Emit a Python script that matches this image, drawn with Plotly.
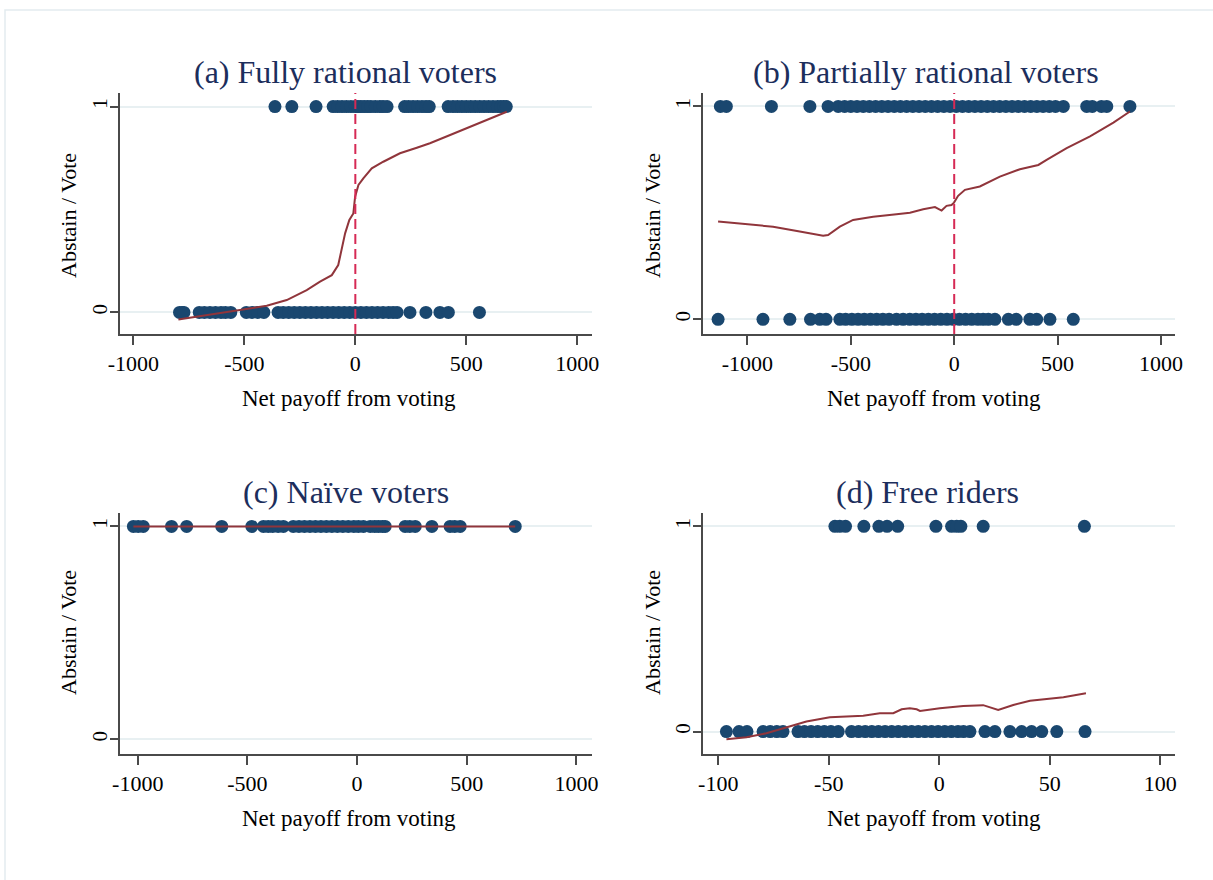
import plotly.graph_objects as go

W, H = 1213, 880

# ---------------- data ----------------
# (a) Fully rational voters
a_vote1 = [-362, -286, -177, -100, -80, -60, -40, -20, 0, 12, 25, 40, 55, 70, 90, 110, 125, 143,
           222, 240, 260, 280, 300, 318, 333, 418, 440, 460, 480, 500, 520, 540, 560, 580,
           600, 620, 640, 655, 668, 680]
a_vote0 = [-792, -780, -772, -703, -680, -655, -630, -605, -585, -561, -491, -465, -440, -412,
           -348, -325, -300, -275, -250, -225, -200, -175, -150, -125, -100, -75, -50, -25, 0,
           25, 50, 75, 100, 125, 150, 170, 188, 246, 318, 381, 419, 559]
a_fit_x = [-797, -654, -504, -399, -309, -219, -159, -106, -77, -61, -46, -27, -9, -1, 14, 36,
           74, 126, 201, 277, 336, 427, 577, 682]
a_fit_y = [-0.034, -0.010, 0.015, 0.032, 0.060, 0.108, 0.149, 0.181, 0.230, 0.303, 0.384, 0.449,
           0.481, 0.562, 0.619, 0.651, 0.700, 0.732, 0.773, 0.800, 0.822, 0.862, 0.927, 0.975]

# (b) Partially rational voters
b_vote1 = [-1131, -1102, -884, -698, -610, -561, -530, -500, -470, -440, -410, -380, -350, -320,
           -290, -260, -230, -200, -170, -140, -110, -80, -50, -20, 10, 40, 70, 100, 130, 160,
           190, 220, 250, 280, 310, 340, 370, 400, 430, 460, 490, 528, 641, 668, 712, 738, 850]
b_vote0 = [-1142, -925, -795, -695, -650, -620, -553, -525, -495, -465, -435, -405, -375, -345,
           -315, -279, -247, -215, -185, -155, -125, -95, -65, -35, -5, 25, 55, 85, 115, 140,
           165, 197, 262, 300, 366, 399, 463, 576]
b_fit_x = [-1142, -1005, -876, -747, -634, -610, -553, -489, -392, -279, -214, -150, -93, -61,
           -37, -13, -1, 19, 52, 124, 221, 318, 407, 447, 544, 657, 770, 850]
b_fit_y = [0.459, 0.447, 0.435, 0.412, 0.392, 0.396, 0.435, 0.467, 0.482, 0.494, 0.501, 0.517,
           0.527, 0.511, 0.533, 0.537, 0.548, 0.580, 0.608, 0.624, 0.670, 0.705, 0.725, 0.749,
           0.804, 0.859, 0.924, 0.976]

# (c) Naive voters
c_vote1 = [-1020, -998, -975, -846, -777, -617, -480, -427, -405, -385, -360, -336, -291, -265,
           -240, -215, -190, -165, -140, -115, -90, -65, -40, -15, 6, 29, 60, 80, 97, 115, 128,
           219, 240, 265, 341, 424, 445, 470, 721]
c_fit_x = [-1020, 721]
c_fit_y = [1.0, 1.0]

# (d) Free riders
d_vote1 = [-47.2, -45.0, -42.4, -34.1, -27.3, -23.6, -18.8, -1.5, 5.6, 7.9, 9.8, 19.9, 65.7]
d_vote0 = [-96.3, -90.6, -87.0, -79.7, -76.5, -73.5, -70.7, -63.9, -61.0, -58.0, -55.0, -52.0,
           -49.0, -45.7, -39.7, -36.5, -33.5, -30.5, -27.5, -24.5, -21.5, -18.5, -15.5, -12.5,
           -9.5, -6.5, -3.5, -0.5, 2.5, 5.5, 8.5, 11.0, 13.9, 20.7, 25.2, 32.0, 37.3, 41.8,
           46.4, 53.2, 66.0]
d_fit_x = [-96.3, -87.2, -78.2, -69.1, -60.1, -49.5, -34.4, -26.9, -20.8, -17.0, -13.3, -10.2,
           -8.7, 0.3, 10.9, 19.9, 23.7, 26.7, 33.5, 41.1, 56.2, 66.4]
d_fit_y = [-0.037, -0.027, -0.008, 0.020, 0.049, 0.070, 0.077, 0.090, 0.090, 0.109, 0.114,
           0.109, 0.101, 0.114, 0.125, 0.129, 0.117, 0.106, 0.130, 0.150, 0.168, 0.187]

titles = ["(a) Fully rational voters", "(b) Partially rational voters",
          "(c) Naïve voters", "(d) Free riders"]
x_ticks = [[-1000, -500, 0, 500, 1000]] * 3 + [[-100, -50, 0, 50, 100]]
x_label = "Net payoff from voting"
y_label = "Abstain / Vote"

# ---------------- styling / layout ----------------
FONT = "Liberation Serif, Times New Roman, serif"
NAVY = "#1a476f"
MAROON = "#90353b"
DASH = "#d62a55"
GRID = "#e8f0f2"
AXIS = "#4a4a4a"

# pixel boxes: left, right, top, bottom
boxes = [(120, 592, 93, 334), (703, 1175, 93, 334), (120, 592, 513, 754), (703, 1175, 513, 754)]
xranges = [[-1060, 1066], [-1215, 1068], [-1081, 1071], [-106.9, 106.7]]
yranges = [[-0.105, 1.066], [-0.069, 1.063], [-0.069, 1.063], [-0.109, 1.065]]
title_pos = [(345, 72), (926, 72), (346, 492), (927, 492)]
xlab_pos = [(349, 398), (934, 398), (349, 818), (934, 818)]
ylab_pos = [(68, 216), (652, 216), (68, 633), (652, 633)]

panels = [
    (a_vote1, a_vote0, a_fit_x, a_fit_y, True),
    (b_vote1, b_vote0, b_fit_x, b_fit_y, True),
    (c_vote1, [], c_fit_x, c_fit_y, False),
    (d_vote1, d_vote0, d_fit_x, d_fit_y, False),
]

fig = go.Figure()
layout = dict(
    template="none",
    width=W, height=H, margin=dict(l=0, r=0, t=0, b=0, pad=0, autoexpand=False),
    paper_bgcolor="white", plot_bgcolor="white", showlegend=False,
    font=dict(family=FONT, color="black"),
)
annotations = []
shapes = []

for i, (v1, v0, fx, fy, vline) in enumerate(panels):
    n = "" if i == 0 else str(i + 1)
    xa, ya = "x" + n, "y" + n
    l, r, t, b = boxes[i]
    layout["xaxis" + n] = dict(
        domain=[l / W, r / W], range=xranges[i], anchor=ya, automargin=False,
        tickvals=x_ticks[i], ticktext=[str(v) for v in x_ticks[i]],
        ticks="outside", ticklen=9, tickwidth=1.5, tickcolor=AXIS,
        showline=True, linecolor=AXIS, linewidth=1.5, showgrid=False, zeroline=False,
        tickfont=dict(family=FONT, size=22, color="black"),
    )
    layout["yaxis" + n] = dict(
        domain=[1 - b / H, 1 - t / H], range=yranges[i], anchor=xa, automargin=False,
        tickvals=[0, 1], ticktext=["0", "1"], tickangle=-90, ticklabelstandoff=-5,
        ticks="outside", ticklen=8, tickwidth=1.5, tickcolor=AXIS,
        showline=True, linecolor=AXIS, linewidth=1.5,
        showgrid=True, gridcolor=GRID, gridwidth=1.5, zeroline=False,
        tickfont=dict(family=FONT, size=21, color="black"),
    )
    xs = list(v1) + list(v0)
    ys = [1] * len(v1) + [0] * len(v0)
    fig.add_trace(go.Scatter(x=xs, y=ys, mode="markers", xaxis=xa, yaxis=ya, cliponaxis=False,
                             marker=dict(color=NAVY, size=13, line=dict(width=0))))
    fig.add_trace(go.Scatter(x=fx, y=fy, mode="lines", xaxis=xa, yaxis=ya,
                             line=dict(color=MAROON, width=2)))
    if vline:
        shapes.append(dict(type="line", xref=xa, yref=ya + " domain", x0=0, x1=0, y0=0, y1=1,
                           line=dict(color=DASH, width=2, dash="10px,5px")))
    tx, ty = title_pos[i]
    annotations.append(dict(text=titles[i], x=tx / W, y=1 - ty / H, xref="paper", yref="paper",
                            showarrow=False, xanchor="center", yanchor="middle",
                            font=dict(family=FONT, size=32, color="#1c2e5c")))
    lx, ly = xlab_pos[i]
    annotations.append(dict(text=x_label, x=lx / W, y=1 - ly / H, xref="paper", yref="paper",
                            showarrow=False, xanchor="center", yanchor="middle",
                            font=dict(family=FONT, size=23, color="black")))
    yx, yy = ylab_pos[i]
    annotations.append(dict(text=y_label, x=yx / W, y=1 - yy / H, xref="paper", yref="paper",
                            showarrow=False, xanchor="center", yanchor="middle", textangle=-90,
                            font=dict(family=FONT, size=22, color="black")))

shapes.append(dict(type="rect", xref="paper", yref="paper", x0=5 / W, x1=1 + 5 / W,
                   y0=-5 / H, y1=1 - 10 / H, line=dict(color="#e3ecef", width=1.5),
                   fillcolor="rgba(0,0,0,0)", layer="below"))

layout["annotations"] = annotations
layout["shapes"] = shapes
fig.update_layout(**layout)
fig.write_html("out.html")
